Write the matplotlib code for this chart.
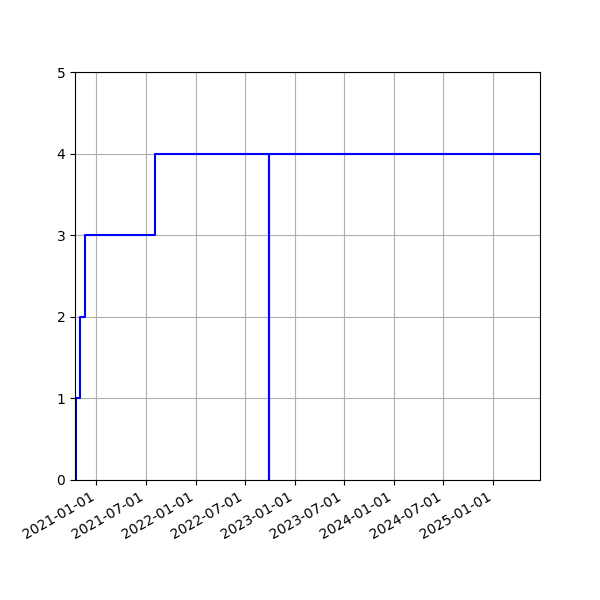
import numpy as np
import pandas as pd
import matplotlib
matplotlib.use("Agg")
import matplotlib.pyplot as plt
import matplotlib.dates as mdates

# change dates and the running count after each change
dates = pd.to_datetime([
    "2020-10-14", "2020-10-17", "2020-11-02", "2020-11-18",
    "2021-08-03", "2022-09-28", "2022-09-29", "2025-06-22",
])
counts = [0, 1, 2, 3, 4, 0, 4, 4]

fig, ax = plt.subplots(figsize=(6, 6), dpi=100)
ax.step(dates, counts, where="post", color="blue")

ax.set_xlim(dates[0], dates[-1])
ax.set_ylim(0, 5)
ax.xaxis.set_major_locator(mdates.MonthLocator(bymonth=[1, 7]))
ax.xaxis.set_major_formatter(mdates.DateFormatter("%Y-%m-%d"))
ax.grid(True)
fig.autofmt_xdate()

fig.savefig("out.png")
